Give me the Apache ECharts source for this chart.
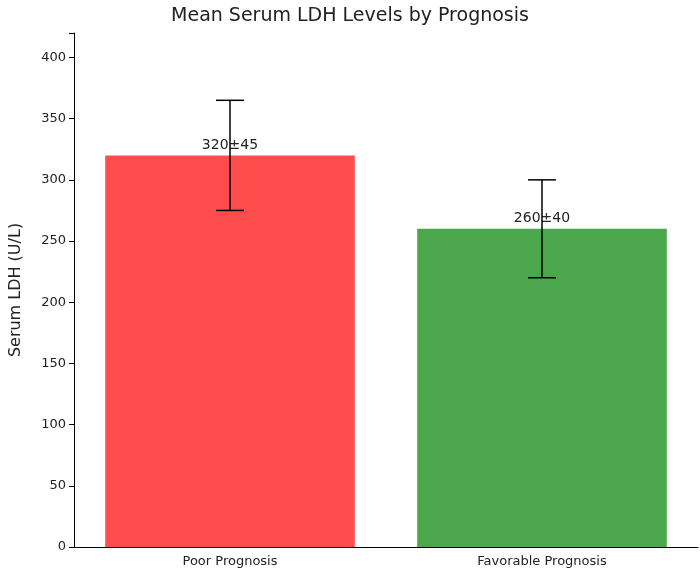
<!DOCTYPE html>
<html><head><meta charset="utf-8">
<script src="https://cdn.jsdelivr.net/npm/echarts@6/dist/echarts.min.js"></script>
<style>html,body{margin:0;padding:0;background:#fff}#c{width:700px;height:576px}</style>
</head><body><div id="c"></div>
<script>
const categories = ['Poor Prognosis', 'Favorable Prognosis'];
const means = [320, 260];
const errors = [45, 40];
const colors = ['#ff4c4c', '#4ca64c'];
const yTicks = [0, 50, 100, 150, 200, 250, 300, 350, 400];

const chart = echarts.init(document.getElementById('c'));
const font = 'DejaVu Sans';
chart.setOption({
  animation: false,
  title: { text: 'Mean Serum LDH Levels by Prognosis', left: 'center', top: 2,
    textStyle: { fontFamily: font, fontSize: 19, fontWeight: 'normal', color: '#222' } },
  grid: { left: 72, right: 2, top: 33, bottom: 29 },
  xAxis: { type: 'category', data: categories,
    axisLine: { lineStyle: { color: '#000' } },
    axisTick: { alignWithLabel: true, lineStyle: { color: '#000' } },
    axisLabel: { fontFamily: font, fontSize: 13, color: '#222' } },
  yAxis: { type: 'value', min: 0, max: 420, interval: 50,
    name: 'Serum LDH (U/L)', nameLocation: 'middle', nameGap: 50,
    nameTextStyle: { fontFamily: font, fontSize: 16, color: '#222' },
    splitLine: { show: false },
    axisLine: { show: true, lineStyle: { color: '#000' } },
    axisTick: { show: true, lineStyle: { color: '#000' } },
    axisLabel: { fontFamily: font, fontSize: 13, color: '#222',
      formatter: v => yTicks.includes(v) ? v : '' } },
  series: [
    { type: 'bar', barWidth: '80%',
      data: means.map((v, i) => ({ value: v, itemStyle: { color: colors[i] } })),
      label: { show: true, position: 'top', distance: 3, fontFamily: font, fontSize: 14, color: '#222',
        formatter: p => means[p.dataIndex] + '±' + errors[p.dataIndex] } },
    { type: 'custom', z: 10,
      data: means.map((v, i) => [i, v - errors[i], v + errors[i]]),
      renderItem: (params, api) => {
        const lo = api.coord([api.value(0), api.value(1)]);
        const hi = api.coord([api.value(0), api.value(2)]);
        const w = 14;
        const st = { stroke: '#000', lineWidth: 1.5 };
        return { type: 'group', children: [
          { type: 'line', shape: { x1: lo[0], y1: lo[1], x2: hi[0], y2: hi[1] }, style: st },
          { type: 'line', shape: { x1: lo[0]-w, y1: lo[1], x2: lo[0]+w, y2: lo[1] }, style: st },
          { type: 'line', shape: { x1: hi[0]-w, y1: hi[1], x2: hi[0]+w, y2: hi[1] }, style: st }
        ]};
      } }
  ]
});
</script></body></html>
